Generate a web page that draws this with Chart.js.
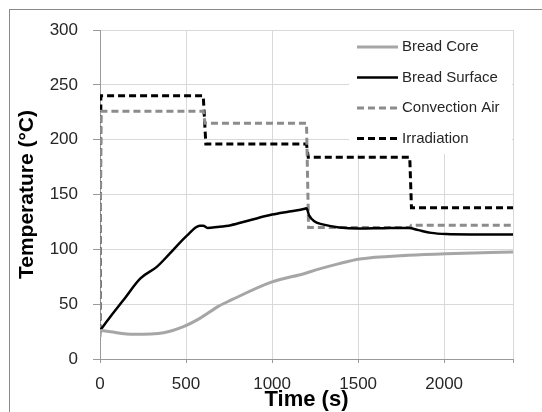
<!DOCTYPE html>
<html lang="en">
<head>
<meta charset="UTF-8">
<title>Bread Baking Temperatures</title>
<script src="https://cdn.jsdelivr.net/npm/chart.js"></script>
<style>
  body { margin: 0; background: #fff; }
  #wrap { width: 542px; height: 412px; }
</style>
</head>
<body>
<div id="wrap"><canvas id="chart" width="542" height="412"></canvas></div>
<script>
    // time (s) / temperature (°C)
    const coreTime = [0, 5, 60, 195, 370, 485, 580, 690, 760, 1000, 1190, 1250, 1390, 1510, 1790, 2010, 2400];
    const coreTemp = [20, 26, 24.8, 22.5, 24, 29.5, 37, 48.2, 53.6, 70.3, 78, 81, 87, 91.2, 94.5, 96, 97.5];

    const surfaceTime = [0, 60, 135, 235, 330, 405, 505, 580, 600, 625, 680, 760, 870, 1000, 1100, 1190, 1200, 1215, 1245, 1300, 1390, 1500, 1650, 1795, 1850, 1925, 2010, 2200, 2400];
    const surfaceTemp = [26, 38.5, 53.5, 73.5, 84, 96, 112.5, 121.5, 121.5, 119.5, 120.3, 122, 126.5, 131.7, 134.5, 137, 137.5, 131, 125.5, 122.5, 120, 119, 119.3, 119.5, 117.5, 115, 114, 113.6, 113.5];

    const airTime = [0, 5, 600, 610, 1200, 1212, 1800, 1810, 2400];
    const airTemp = [25, 226, 226, 215, 215, 120, 120, 122, 122];

    const irrTime = [0, 5, 600, 615, 1200, 1210, 1800, 1810, 2400];
    const irrTemp = [25, 240, 240, 196, 196, 184, 184, 138, 138];

    const seriesNames = ['Bread Core', 'Bread Surface', 'Convection Air', 'Irradiation'];
    const xTicks = [0, 500, 1000, 1500, 2000];
    const xMax = 2400;

    const toPoints = (xs, ys) => xs.map((x, i) => ({ x: x, y: ys[i] }));

    // outer frame + legend box drawn inside the plot area
    const framePlugin = {
        id: 'frame',
        beforeDraw(chart) {
            const ctx = chart.ctx;
            ctx.save();
            ctx.strokeStyle = '#8a8a8a';
            ctx.lineWidth = 1;
            ctx.strokeRect(9.5, 9.5, 540, 410);
            ctx.restore();
        },
        afterDatasetsDraw(chart) {
            const ctx = chart.ctx;
            const area = chart.chartArea;
            const left = 349, top = area.top + 1;
            ctx.save();
            ctx.fillStyle = '#fff';
            ctx.fillRect(left, top, area.right - left - 1, 123);
            chart.data.datasets.forEach((ds, i) => {
                const y = 47 + i * 30.5;
                ctx.beginPath();
                ctx.strokeStyle = ds.borderColor;
                ctx.lineWidth = ds.borderWidth;
                ctx.setLineDash(ds.borderDash || []);
                ctx.moveTo(357, y);
                ctx.lineTo(398, y);
                ctx.stroke();
                ctx.setLineDash([]);
                ctx.fillStyle = '#262626';
                ctx.font = '15px "Liberation Sans", Arial, sans-serif';
                ctx.textBaseline = 'middle';
                ctx.fillText(ds.label, 402, y);
            });
            ctx.restore();
        }
    };

    const ctx = document.getElementById('chart').getContext('2d');
    new Chart(ctx, {
        type: 'scatter',
        data: {
            datasets: [{
                label: seriesNames[0],
                data: toPoints(coreTime, coreTemp),
                borderColor: '#a6a6a6',
                borderWidth: 3,
                cubicInterpolationMode: 'monotone'
            }, {
                label: seriesNames[1],
                data: toPoints(surfaceTime, surfaceTemp),
                borderColor: '#000',
                borderWidth: 2.5,
                cubicInterpolationMode: 'monotone'
            }, {
                label: seriesNames[2],
                data: toPoints(airTime, airTemp),
                borderColor: '#8c8c8c',
                borderWidth: 3,
                borderDash: [7, 4]
            }, {
                label: seriesNames[3],
                data: toPoints(irrTime, irrTemp),
                borderColor: '#000',
                borderWidth: 3,
                borderDash: [7, 4]
            }].map(ds => Object.assign(ds, { showLine: true, pointRadius: 0, fill: false }))
        },
        options: {
            responsive: false,
            animation: false,
            layout: { padding: { top: 30, right: 29, left: 0, bottom: 0 } },
            plugins: {
                legend: { display: false },
                tooltip: { enabled: false }
            },
            scales: {
                x: {
                    type: 'linear',
                    min: 0,
                    max: xMax,
                    afterBuildTicks: s => {
                        s.ticks = xTicks.concat([xMax]).map(v => ({ value: v }));
                    },
                    ticks: {
                        padding: 11,
                        color: '#262626',
                        font: { family: '"Liberation Sans", Arial, sans-serif', size: 17 },
                        callback: v => (xTicks.includes(v) ? v : '')
                    },
                    grid: { color: '#d9d9d9', tickLength: 4, tickColor: '#999' },
                    border: { color: '#999' },
                    title: {
                        display: true,
                        text: 'Time (s)',
                        color: '#000',
                        font: { family: '"Liberation Sans", Arial, sans-serif', size: 22, weight: 'bold', lineHeight: 1 },
                        padding: { top: 0, bottom: 1 }
                    },
                    afterFit: s => { s.height = 53; }
                },
                y: {
                    min: 0,
                    max: 300,
                    ticks: {
                        stepSize: 50,
                        padding: 15,
                        color: '#262626',
                        font: { family: '"Liberation Sans", Arial, sans-serif', size: 17 }
                    },
                    grid: { color: '#d9d9d9', tickLength: 7, tickColor: '#999' },
                    border: { color: '#999' },
                    title: {
                        display: true,
                        text: 'Temperature (°C)',
                        color: '#000',
                        font: { family: '"Liberation Sans", Arial, sans-serif', size: 21, weight: 'bold', lineHeight: 1 },
                        padding: { top: 17, bottom: 0 }
                    },
                    afterFit: s => { s.width = 100; }
                }
            }
        },
        plugins: [framePlugin]
    });
</script>
</body>
</html>
